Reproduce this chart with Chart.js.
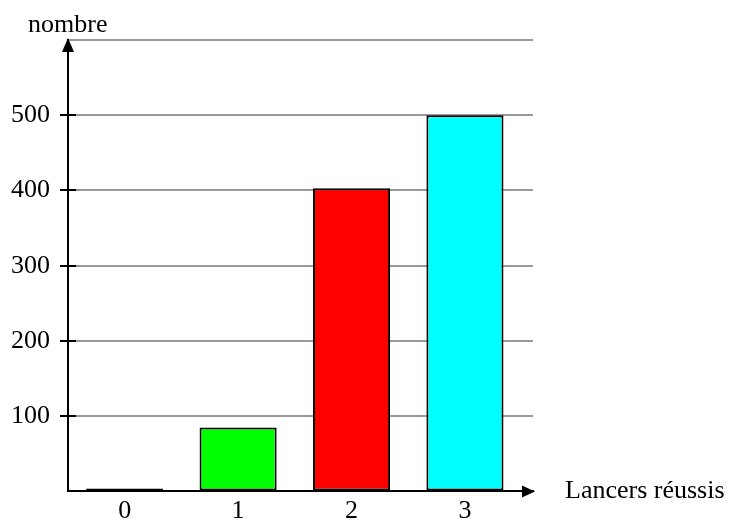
<!DOCTYPE html>
<html>
<head>
<meta charset="utf-8">
<script src="https://cdn.jsdelivr.net/npm/chart.js@4/dist/chart.umd.min.js"></script>
<style>
  body { margin: 0; background: #fff; overflow: hidden; }
  #wrap { position: relative; width: 729px; height: 525px; }
</style>
</head>
<body>
<div id="wrap"><canvas id="lancersChart"></canvas></div>
<script>
const categories = ['0', '1', '2', '3'];
const nombres = [4, 85, 403, 500];
const barColors = ['#000080', '#00ff00', '#ff0000', '#00ffff'];
const yTicks = [100, 200, 300, 400, 500];
const yTitle = 'nombre';
const xTitle = 'Lancers réussis';

const FONT = '"Liberation Serif", "Times New Roman", serif';

// fleches, petits traits et titres des axes
const axesPlugin = {
    id: 'axesPlugin',
    afterDraw: (chart) => {
        const { ctx, chartArea: { left, right, top, bottom }, scales: { y } } = chart;
        ctx.save();
        ctx.fillStyle = '#000';
        ctx.strokeStyle = '#000';
        ctx.lineWidth = 2;

        yTicks.forEach(v => {
            const py = Math.round(y.getPixelForValue(v));
            ctx.beginPath();
            ctx.moveTo(left - 8, py);
            ctx.lineTo(left + 8, py);
            ctx.stroke();
        });

        // fleche verticale
        ctx.beginPath();
        ctx.moveTo(left, top - 2);
        ctx.lineTo(left - 6, top + 12);
        ctx.lineTo(left + 6, top + 12);
        ctx.closePath();
        ctx.fill();

        // fleche horizontale
        ctx.beginPath();
        ctx.moveTo(right + 2, bottom);
        ctx.lineTo(right - 11, bottom - 6);
        ctx.lineTo(right - 11, bottom + 6);
        ctx.closePath();
        ctx.fill();

        ctx.font = '26px ' + FONT;
        ctx.textBaseline = 'alphabetic';
        ctx.textAlign = 'left';
        ctx.fillText(yTitle, 28, 32);
        ctx.textBaseline = 'middle';
        ctx.fillText(xTitle, 565, bottom);
        ctx.restore();
    }
};

const ctx = document.getElementById('lancersChart').getContext('2d');

new Chart(ctx, {
    type: 'bar',
    data: {
        datasets: [{
            data: nombres.map((v, i) => ({ x: i, y: v })),
            backgroundColor: barColors,
            borderColor: '#000',
            borderWidth: 2,
            borderSkipped: false,
            barPercentage: 0.68,
            categoryPercentage: 1
        }]
    },
    options: {
        responsive: true,
        maintainAspectRatio: false,
        animation: false,
        layout: { padding: { top: 40, right: 196, left: 0, bottom: 0 } },
        plugins: {
            legend: { display: false },
            tooltip: { enabled: false }
        },
        scales: {
            x: {
                type: 'linear',
                offset: false,
                min: -0.5,
                max: 3.6,
                afterBuildTicks: (scale) => {
                    scale.ticks = categories.map((c, i) => ({ value: i }));
                },
                afterFit: (scale) => { scale.height = 32; },
                grid: { display: false, drawTicks: false },
                border: { color: '#000', width: 2 },
                ticks: {
                    padding: 4,
                    color: '#000',
                    font: { family: FONT, size: 26 },
                    callback: (v) => categories[v] ?? ''
                }
            },
            y: {
                min: 0,
                max: 600,
                afterFit: (scale) => { scale.width = 68; },
                grid: {
                    drawTicks: false,
                    lineWidth: 2,
                    color: (c) => c.tick && c.tick.value === 0 ? 'rgba(0,0,0,0)' : '#999999'
                },
                border: { color: '#000', width: 2 },
                ticks: {
                    stepSize: 100,
                    padding: 18,
                    color: '#000',
                    font: { family: FONT, size: 26 },
                    callback: (v) => yTicks.includes(v) ? String(v) : ''
                }
            }
        }
    },
    plugins: [axesPlugin]
});
</script>
</body>
</html>
